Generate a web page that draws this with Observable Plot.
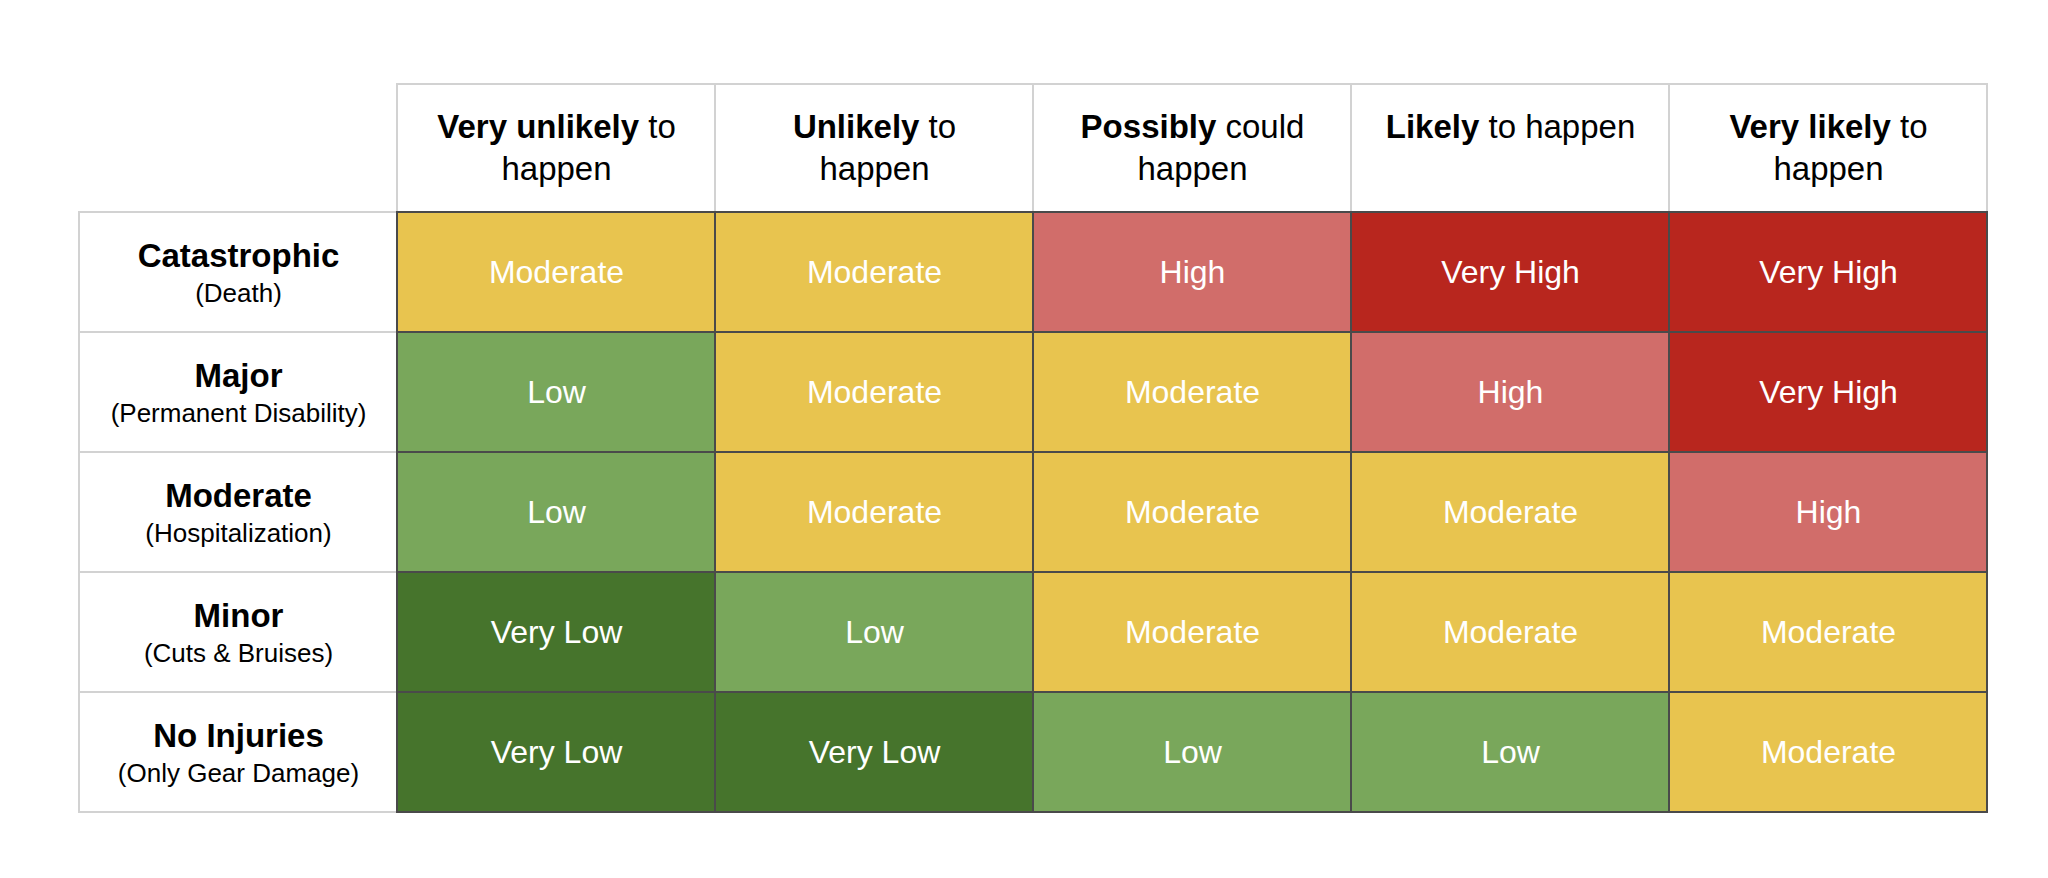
<!DOCTYPE html>
<html>
<head>
<meta charset="utf-8">
<script src="https://cdn.jsdelivr.net/npm/d3@7"></script>
<script src="https://cdn.jsdelivr.net/npm/@observablehq/plot@0.6"></script>
<style>
  html, body { margin: 0; padding: 0; background: #fff; }
  #chart svg { display: block; }
</style>
</head>
<body>
<div id="chart"></div>
<script>
// ---- data ----
const likelihoodBold = ["Very unlikely", "Unlikely", "Possibly", "Likely", "Very likely"];
const likelihoodRest = [" to\nhappen", " to\nhappen", " could\nhappen", " to happen", " to\nhappen"];
const severity = ["Catastrophic", "Major", "Moderate", "Minor", "No Injuries"];
const severityNote = ["(Death)", "(Permanent Disability)", "(Hospitalization)", "(Cuts & Bruises)", "(Only Gear Damage)"];
const riskMatrix = [
  ["Moderate", "Moderate", "High", "Very High", "Very High"],
  ["Low", "Moderate", "Moderate", "High", "Very High"],
  ["Low", "Moderate", "Moderate", "Moderate", "High"],
  ["Very Low", "Low", "Moderate", "Moderate", "Moderate"],
  ["Very Low", "Very Low", "Low", "Low", "Moderate"]
];
const riskLevels = ["Very Low", "Low", "Moderate", "High", "Very High"];
const riskColors = ["#46742C", "#79A75B", "#E8C44F", "#D16D6A", "#B8261E"];

// ---- tables built from the arrays ----
const LABEL = "__label";
const HEADER = "__header";
const headerCells = likelihoodBold.map((b, j) => ({x: b, y: HEADER, bold: b, rest: likelihoodRest[j]}));
const labelCells = severity.map((s, i) => ({x: LABEL, y: s, name: s, note: severityNote[i]}));
const dataCells = severity.flatMap((s, i) => likelihoodBold.map((l, j) => ({x: l, y: s, risk: riskMatrix[i][j]})));

const font = "'Liberation Sans', Arial, Helvetica, sans-serif";

const chart = Plot.plot({
  width: 2048,
  height: 878,
  marginLeft: 78,
  marginRight: 60,
  marginTop: 90,
  marginBottom: 65,
  x: {domain: [LABEL, ...likelihoodBold], axis: null, padding: 0},
  y: {domain: [HEADER, ...severity], axis: null, padding: 0},
  color: {domain: riskLevels, range: riskColors},
  style: {fontFamily: font, background: "white", color: "black"},
  marks: [
    Plot.cell(headerCells, {x: "x", y: "y", fill: "white", stroke: "#d2d2d2", strokeWidth: 2, insetTop: -8}),
    Plot.cell(labelCells, {x: "x", y: "y", fill: "white", stroke: "#d2d2d2", strokeWidth: 2}),
    Plot.cell(dataCells, {x: "x", y: "y", fill: "risk", stroke: "#4a4a4a", strokeWidth: 2}),
    Plot.text(dataCells, {x: "x", y: "y", text: "risk", fill: "white", fontSize: 32}),
    Plot.text(headerCells, {
      x: "x", y: "y", text: d => d.bold + d.rest, fill: "black",
      fontSize: 33, lineAnchor: "top", lineHeight: 1.29, dy: -45
    }),
    Plot.text(labelCells, {x: "x", y: "y", text: "name", fill: "black", fontSize: 33, fontWeight: "bold", dy: -16}),
    Plot.text(labelCells, {x: "x", y: "y", text: "note", fill: "black", fontSize: 26, dy: 21})
  ]
});

document.getElementById("chart").appendChild(chart);

// make the leading word(s) of each header bold, keeping Plot's line layout
const SVGNS = "http://www.w3.org/2000/svg";
const headerFull = likelihoodBold.map((b, j) => (b + likelihoodRest[j]).replace(/\n/g, ""));
chart.querySelectorAll("text").forEach(function(t) {
  const j = headerFull.indexOf(t.textContent);
  if (j < 0) return;
  const bold = likelihoodBold[j];
  const tspans = t.querySelectorAll("tspan");
  const target = tspans.length ? tspans[0] : t;
  const line = target.textContent;
  if (!line.startsWith(bold)) return;
  const rest = line.slice(bold.length);
  target.textContent = "";
  const b = document.createElementNS(SVGNS, "tspan");
  b.setAttribute("font-weight", "bold");
  b.textContent = bold;
  target.appendChild(b);
  target.appendChild(document.createTextNode(rest));
});
</script>
</body>
</html>
